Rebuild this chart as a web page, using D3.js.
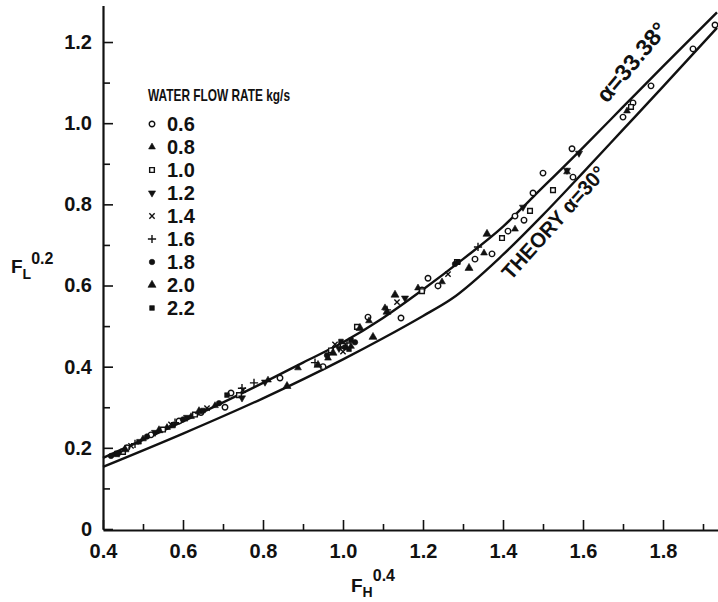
<!DOCTYPE html>
<html>
<head>
<meta charset="utf-8">
<script src="https://cdn.jsdelivr.net/npm/d3@7"></script>
<style>
  html, body { margin: 0; padding: 0; background: #fff; }
  svg text { font-family: "Liberation Sans", Arial, sans-serif; font-weight: bold; fill: #111; }
</style>
</head>
<body>
<svg id="chart" width="718" height="602"></svg>
<script>
// Axis ticks
const xMajor = [0.4, 0.6, 0.8, 1.0, 1.2, 1.4, 1.6, 1.8];
const xMinor = [0.5, 0.7, 0.9, 1.1, 1.3, 1.5, 1.7, 1.9];
const yMajor = [0, 0.2, 0.4, 0.6, 0.8, 1.0, 1.2];
const yMinor = [0.1, 0.3, 0.5, 0.7, 0.9, 1.1];
const yTickLabels = ["0", "0.2", "0.4", "0.6", "0.8", "1.0", "1.2"];

// Correlation curve, alpha = 33.38 deg  [F_H^0.4, F_L^0.2]
const curveFit = [[0.4, 0.175], [0.6, 0.265], [0.8, 0.36], [0.9, 0.41], [1.0, 0.46], [1.1, 0.52],
  [1.2, 0.59], [1.3, 0.665], [1.4, 0.745], [1.475, 0.818], [1.6, 0.94], [1.7, 1.04], [1.8, 1.14], [1.935, 1.273]];
// Theory curve, alpha = 30 deg
const curveTheory = [[0.4, 0.153], [0.6, 0.235], [0.8, 0.322], [1.0, 0.418], [1.1, 0.47], [1.2, 0.525],
  [1.27, 0.566], [1.4, 0.676], [1.5, 0.774], [1.6, 0.878], [1.7, 0.984], [1.8, 1.09], [1.935, 1.235]];

// Measurements by water flow rate (kg/s)
const flowRates = ["0.6", "0.8", "1.0", "1.2", "1.4", "1.6", "1.8", "2.0", "2.2"];
const q06 = [[0.46, 0.2], [0.52, 0.232], [0.59, 0.266], [0.645, 0.287], [0.705, 0.3], [0.72, 0.335], [0.8425, 0.372],
  [0.95, 0.4], [1.0, 0.452], [1.0625, 0.522], [1.145, 0.52], [1.2125, 0.618], [1.1975, 0.589], [1.2375, 0.599],
  [1.33, 0.665], [1.3725, 0.678], [1.4125, 0.734], [1.43, 0.771], [1.4525, 0.761], [1.475, 0.828], [1.5, 0.877],
  [1.5725, 0.937], [1.575, 0.867], [1.7, 1.015], [1.725, 1.05], [1.77, 1.092], [1.875, 1.183], [1.93, 1.242]];
const q08 = [[0.43, 0.183], [0.5, 0.222], [0.56, 0.25], [0.62, 0.277], [0.68, 0.304], [0.8125, 0.367], [0.8875, 0.397],
  [0.9625, 0.421], [1.02, 0.45], [1.065, 0.513], [1.105, 0.545], [1.1875, 0.594], [1.2475, 0.609], [1.3525, 0.68],
  [1.43, 0.739], [1.56, 0.88], [1.71, 1.03]];
const q10 = [[0.45, 0.19], [0.55, 0.245], [0.63, 0.282], [0.74, 0.33], [0.97, 0.44], [1.035, 0.498], [1.1975, 0.586],
  [1.285, 0.658], [1.3975, 0.717], [1.4675, 0.784], [1.525, 0.835], [1.72, 1.04]];
const q12 = [[0.44, 0.187], [0.53, 0.238], [0.61, 0.275], [0.7475, 0.323], [0.805, 0.362], [0.99, 0.445],
  [1.155, 0.569], [1.45, 0.793], [1.59, 0.926], [1.56, 0.884]];
const q14 = [[0.47, 0.205], [0.57, 0.258], [0.66, 0.298], [0.75, 0.342], [0.98, 0.455], [1.135, 0.559], [1.2625, 0.628], [1.0, 0.437]];
const q16 = [[0.48, 0.21], [0.58, 0.262], [0.7775, 0.36], [0.7475, 0.347], [0.93, 0.41], [1.01, 0.458], [1.3375, 0.695], [1.11, 0.54]];
const q18 = [[0.42, 0.18], [0.51, 0.228], [0.6, 0.27], [0.69, 0.31], [0.96, 0.428], [1.005, 0.448], [1.03, 0.46], [1.28, 0.653]];
const q20 = [[0.455, 0.196], [0.54, 0.243], [0.64, 0.29], [0.86, 0.352], [0.9375, 0.404], [0.975, 0.434], [1.075, 0.473],
  [1.11, 0.535], [1.13, 0.577], [1.315, 0.643], [1.36, 0.727], [1.0425, 0.495]];
const q22 = [[0.435, 0.186], [0.49, 0.215], [0.575, 0.255], [0.65, 0.292], [0.71, 0.33], [0.995, 0.462], [1.015, 0.443],
  [1.02, 0.465], [1.2875, 0.658]];

// Marker style per flow rate
const markers = [
  { type: d3.symbolCircle, size: 24, fill: false, rot: 0 },
  { type: d3.symbolTriangle, size: 20, fill: true, rot: 0 },
  { type: d3.symbolSquare, size: 22, fill: false, rot: 0 },
  { type: d3.symbolTriangle, size: 22, fill: true, rot: 180 },
  { type: d3.symbolTimes, size: 20, fill: false, rot: 0 },
  { type: d3.symbolPlus, size: 24, fill: false, rot: 0 },
  { type: d3.symbolCircle, size: 24, fill: true, rot: 0 },
  { type: d3.symbolTriangle, size: 28, fill: true, rot: 0 },
  { type: d3.symbolSquare, size: 22, fill: true, rot: 0 }
];
const seriesData = [q06, q08, q10, q12, q14, q16, q18, q20, q22];
const series = flowRates.map((r, i) => ({ rate: r, points: seriesData[i], mk: markers[i] }));

const svg = d3.select("#chart");
const x = d3.scaleLinear().domain([0.4, 1.9375]).range([103, 718]);
const y = d3.scaleLinear().domain([0, 1.29]).range([529, 5.5]);

// Axes (ticks point into the plot)
svg.append("g").attr("transform", "translate(0,530)")
  .call(d3.axisBottom(x).tickValues(xMajor).tickSize(-10).tickPadding(14).tickSizeOuter(0).tickFormat(d3.format(".1f")));
svg.append("g").attr("transform", "translate(0,530)")
  .call(d3.axisBottom(x).tickValues(xMinor).tickSize(-6).tickFormat(""))
  .call(g => g.select(".domain").remove());
svg.append("g").attr("transform", "translate(103,0)")
  .call(d3.axisLeft(y).tickValues(yMajor).tickSize(-10).tickPadding(11).tickSizeOuter(0).tickFormat((d, i) => yTickLabels[i]));
svg.append("g").attr("transform", "translate(103,0)")
  .call(d3.axisLeft(y).tickValues(yMinor).tickSize(-7).tickFormat(""))
  .call(g => g.select(".domain").remove());

svg.selectAll(".domain").attr("stroke", "#111").attr("stroke-width", 2.2);
svg.selectAll(".tick line").attr("stroke", "#111").attr("stroke-width", 1.6);
svg.selectAll(".tick text").attr("font-size", 20).attr("font-family", "Liberation Sans, Arial, sans-serif")
  .attr("font-weight", "bold").attr("fill", "#111");

// Curves
const line = d3.line().x(d => x(d[0])).y(d => y(d[1])).curve(d3.curveMonotoneX);
const plot = svg.append("g");
plot.append("path").datum(curveFit).attr("d", line).attr("fill", "none").attr("stroke", "#111").attr("stroke-width", 2.4);
plot.append("path").datum(curveTheory).attr("d", line).attr("fill", "none").attr("stroke", "#111").attr("stroke-width", 2.4);

// Markers
function symbolPath(mk) { return d3.symbol().type(mk.type).size(mk.size)(); }
function styleMarker(sel, mk) {
  sel.attr("d", symbolPath(mk))
    .attr("fill", mk.fill ? "#111" : "#fff")
    .attr("stroke", "#111")
    .attr("stroke-width", mk.fill ? 0.6 : 1.4);
}
series.forEach(s => {
  plot.append("g").selectAll("path").data(s.points).join("path")
    .attr("transform", d => `translate(${x(d[0])},${y(d[1])}) rotate(${s.mk.rot})`)
    .call(sel => styleMarker(sel, s.mk));
});

// Curve annotations
svg.append("text").attr("transform", "translate(607,104) rotate(-50)")
  .attr("font-size", 23).attr("textLength", 96).attr("lengthAdjust", "spacingAndGlyphs").text("α=33.38°");
svg.append("text").attr("transform", "translate(511,281) rotate(-48)")
  .attr("font-size", 21).attr("textLength", 144).attr("lengthAdjust", "spacingAndGlyphs").text("THEORY α=30°");

// Legend
const legend = svg.append("g");
legend.append("text").attr("x", 148).attr("y", 101).attr("font-size", 17)
  .attr("textLength", 142).attr("lengthAdjust", "spacingAndGlyphs").text("WATER FLOW RATE kg/s");
const rowY = i => 124 + i * 23;
series.forEach((s, i) => {
  legend.append("path").attr("transform", `translate(152,${rowY(i)}) rotate(${s.mk.rot})`).call(sel => styleMarker(sel, s.mk));
  legend.append("text").attr("x", 167).attr("y", rowY(i) + 7).attr("font-size", 20).text(s.rate);
});

// Axis titles
const yl = svg.append("text").attr("x", 11).attr("y", 273).attr("font-size", 19);
yl.append("tspan").text("F");
yl.append("tspan").attr("font-size", 14).attr("dy", 6).text("L");
yl.append("tspan").attr("font-size", 16).attr("dy", -15).text("0.2");
const xl = svg.append("text").attr("x", 351).attr("y", 592).attr("font-size", 19);
xl.append("tspan").text("F");
xl.append("tspan").attr("font-size", 14).attr("dy", 5).text("H");
xl.append("tspan").attr("font-size", 16).attr("dy", -16).text("0.4");
</script>
</body>
</html>
